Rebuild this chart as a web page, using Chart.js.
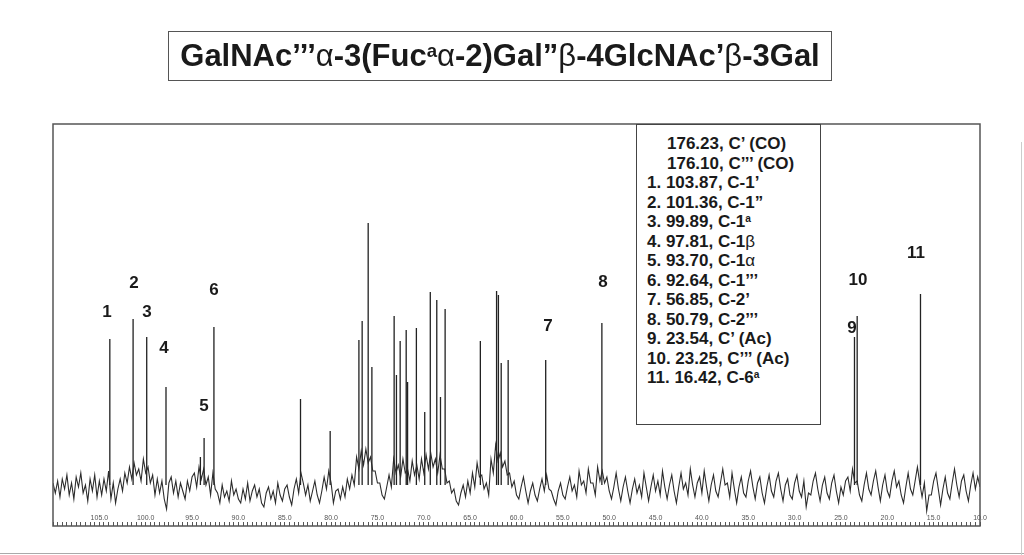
<!DOCTYPE html>
<html>
<head>
<meta charset="utf-8">
<script src="https://cdn.jsdelivr.net/npm/chart.js@4.4.1/dist/chart.umd.min.js"></script>
<style>
  body { margin: 0; background: #fff; font-family: "Liberation Sans", Arial, sans-serif; color: #1a1a1a; }
  #page { position: relative; width: 1024px; height: 555px; overflow: hidden; }
  #spectre { position: absolute; left: 0; top: 0; }
  #titre { position: absolute; left: 168px; top: 31px; width: 664px; height: 50px; box-sizing: border-box;
           border: 1.5px solid #555; text-align: center; font-weight: bold; font-size: 31px; line-height: 47px; white-space: nowrap; }
  .gr { font-weight: normal; }
  #liste { position: absolute; left: 636px; top: 124px; width: 185px; height: 301px; box-sizing: border-box;
           border: 1.5px solid #444; background: #fff; font-weight: bold; font-size: 17px; line-height: 19.5px;
           padding: 9px 0 0 10px; white-space: nowrap; }
  #liste .ind { padding-left: 20px; }
  sup { font-size: 0.6em; vertical-align: 0.5em; line-height: 0; }
  .num { position: absolute; transform: translate(-50%, -50%); font-weight: bold; font-size: 17px; }
  #bord-bas { position: absolute; left: 0; top: 553px; width: 1024px; height: 0; border-top: 1px solid #aaa; }
  #bord-droit { position: absolute; left: 1021px; top: 142px; width: 0; height: 420px; border-left: 1px solid #ccc; }
</style>
</head>
<body>
<div id="page">
  <canvas id="spectre" width="1024" height="555"></canvas>
  <div id="titre">GalNAc’’’<span class="gr">α</span>-3(Fuc<sup>a</sup><span class="gr">α</span>-2)Gal”<span class="gr">β</span>-4GlcNAc’<span class="gr">β</span>-3Gal</div>
  <div id="liste">
    <div class="ind">176.23, C’ (CO)</div>
    <div class="ind">176.10, C’’’ (CO)</div>
    <div>1. 103.87, C-1’</div>
    <div>2. 101.36, C-1”</div>
    <div>3. 99.89, C-1<sup>a</sup></div>
    <div>4. 97.81, C-1<span class="gr">β</span></div>
    <div>5. 93.70, C-1<span class="gr">α</span></div>
    <div>6. 92.64, C-1’’’</div>
    <div>7. 56.85, C-2’</div>
    <div>8. 50.79, C-2’’’</div>
    <div>9. 23.54, C’ (Ac)</div>
    <div>10. 23.25, C’’’ (Ac)</div>
    <div>11. 16.42, C-6<sup>a</sup></div>
  </div>
  <div class="num" style="left:107px;top:312px">1</div>
  <div class="num" style="left:134px;top:283px">2</div>
  <div class="num" style="left:147px;top:312px">3</div>
  <div class="num" style="left:164px;top:348px">4</div>
  <div class="num" style="left:204px;top:406px">5</div>
  <div class="num" style="left:214px;top:290px">6</div>
  <div class="num" style="left:548px;top:326px">7</div>
  <div class="num" style="left:603px;top:282px">8</div>
  <div class="num" style="left:852px;top:328px">9</div>
  <div class="num" style="left:858px;top:280px">10</div>
  <div class="num" style="left:916px;top:253px">11</div>
  <div id="bord-bas"></div>
  <div id="bord-droit"></div>
</div>
<script>
// Déplacements chimiques (ppm) et hauteurs des pics
const peakPpm = [103.87, 101.36, 99.89, 97.81, 94.1, 93.70, 92.64, 83.3, 80.1,
  77.0, 76.65, 76.0, 75.6, 73.2, 72.95, 72.55, 71.9, 71.75, 70.8, 69.9, 69.3, 68.6, 68.2, 67.7,
  63.9, 62.15, 61.95, 61.65, 60.9, 56.85, 50.79, 23.54, 23.25, 16.42];
const peakHeight = [146, 166, 148, 98, 28, 47, 158, 86, 54,
  145, 164, 262, 118, 169, 110, 144, 155, 103, 157, 73, 193, 185, 88, 176,
  144, 194, 190, 122, 125, 125, 162, 148, 169, 191];

// Bruit de la ligne de base, lu de 110.0 à 10.0 ppm par pas de 0.25
const noiseStart = 110;
const noiseStep = 0.25;
const noise = [2,
  -8, 4, -12, 6, -4, 10, -10, 2, -14, 8, -2, 12, -8, 0, -16, 6, -6, 10, -12, 4,
  -10, 6, -6, 14, -14, 2, -18, -4, 6, -6, 12, 2, 18, 6, 22, 10, 16, 4, 26, 12,
  18, 2, 10, -10, 6, -8, 4, -14, -24, 2, 8, -8, 4, -12, 2, -6, -14, 4, -6, 8,
  12, -2, 18, 6, 16, 0, 8, -10, 12, -4, -8, -18, 0, -12, -6, -16, 4, -10, -4, -14,
  -18, -4, -14, 2, -16, -6, 0, -12, -4, -18, -22, -8, -2, -14, -6, -18, 2, -10, -16, -4,
  0, -12, -20, -4, 6, -8, 12, 2, -10, 0, -16, -6, 4, -10, -18, -6, 8, -4, 14, 2,
  -18, -6, -4, -14, -2, -12, 6, -4, 10, 0, 28, 16, 34, 20, 36, 22, 28, 14, 14, 2,
  2, -10, -14, -2, 10, -2, 26, 12, 20, 8, 26, 12, 16, 4, 24, 10, 20, 6, 26, 12,
  30, 16, 32, 18, 26, 12, 30, 16, 16, 2, 4, -8, -4, -16, -20, -8, 0, -12, 4, -8,
  12, -2, 22, 8, 10, -4, 2, -10, 26, 12, 40, 24, 32, 18, 24, 10, 12, -2, 4, -10,
  -14, -2, 8, -6, -18, -6, 2, -10, -16, -4, 6, -6, 10, -4, -6, -14, -20, -6, 2, -10,
  -14, -2, 8, -6, 0, -12, 14, 0, 4, -8, 16, 2, 2, -10, 18, 4, 14, 2, 8, -6,
  -14, -2, 12, -4, -16, -2, 8, -6, -18, -4, 6, -8, 0, -12, 12, -2, -16, -2, 10, -6,
  4, -10, 14, -2, -14, 0, 10, -6, -18, -2, 12, -4, 2, -10, 16, 0, -12, 2, 8, -8,
  14, -2, -16, 0, 10, -6, -12, 2, 16, 0, 2, -12, 12, -4, -18, -2, 8, -8, -12, 4,
  14, -2, -14, 2, 8, -8, -18, -2, 10, -6, -12, 4, 12, -4, -16, 0, 6, -10, -14, 2,
  10, -6, -12, 4, -22, -8, -10, 4, 12, -4, -16, 0, 8, -8, -14, 2, 10, -6, -18, -2,
  -10, 4, 8, -6, 16, 2, 4, -10, -16, 0, 12, -4, -10, 4, 14, -2, -16, 0, 10, -6,
  -12, 4, 14, -2, 4, -10, -18, -2, 12, -4, -10, 4, 18, 2, -12, 2, -26, -10, -10, 4,
  12, -4, -20, -4, 8, -8, -14, 2, 16, 0, -12, 4, 10, -6, -16, 0, 12, -4, 8, -2];

const axisMin = 10;
const axisMax = 110;
const labelEvery = 5;

const noisePoints = noise.map((v, i) => ({ x: noiseStart - i * noiseStep, y: v }));
const peakPoints = [];
peakPpm.forEach((p, i) => {
  peakPoints.push({ x: p, y: 0 }, { x: p, y: peakHeight[i] }, { x: p, y: null });
});

// cadre autour du spectre
const cadre = {
  id: 'cadre',
  afterDraw(chart) {
    const { ctx, chartArea: a } = chart;
    ctx.save();
    ctx.strokeStyle = '#555';
    ctx.lineWidth = 1.5;
    ctx.strokeRect(a.left, a.top, a.right - a.left, a.bottom + 4 - a.top);
    ctx.restore();
  }
};

new Chart(document.getElementById('spectre'), {
  type: 'line',
  data: {
    datasets: [
      { data: noisePoints, borderColor: '#2b2b2b', borderWidth: 1.1, pointRadius: 0, tension: 0 },
      { data: peakPoints, borderColor: '#222', borderWidth: 1.3, pointRadius: 0, spanGaps: false }
    ]
  },
  options: {
    responsive: false,
    animation: false,
    layout: { padding: { left: 53, right: 44, top: 124, bottom: 29 } },
    plugins: { legend: { display: false }, title: { display: false }, tooltip: { enabled: false } },
    scales: {
      x: {
        type: 'linear',
        reverse: true,
        min: axisMin,
        max: axisMax,
        afterFit: s => { s.height = 4; },
        border: { display: false },
        grid: { drawOnChartArea: false, tickLength: 4, tickColor: '#555', tickWidth: 1 },
        ticks: {
          stepSize: 0.5,
          autoSkip: false,
          maxRotation: 0,
          mirror: true,
          padding: 0,
          color: '#555',
          font: { family: 'Liberation Sans', size: 7 },
          callback: v => (v % labelEvery === 0 && v < axisMax) ? v.toFixed(1) : ''
        }
      },
      y: { display: false, min: -37, max: 361 }
    }
  },
  plugins: [cadre]
});
</script>
</body>
</html>
